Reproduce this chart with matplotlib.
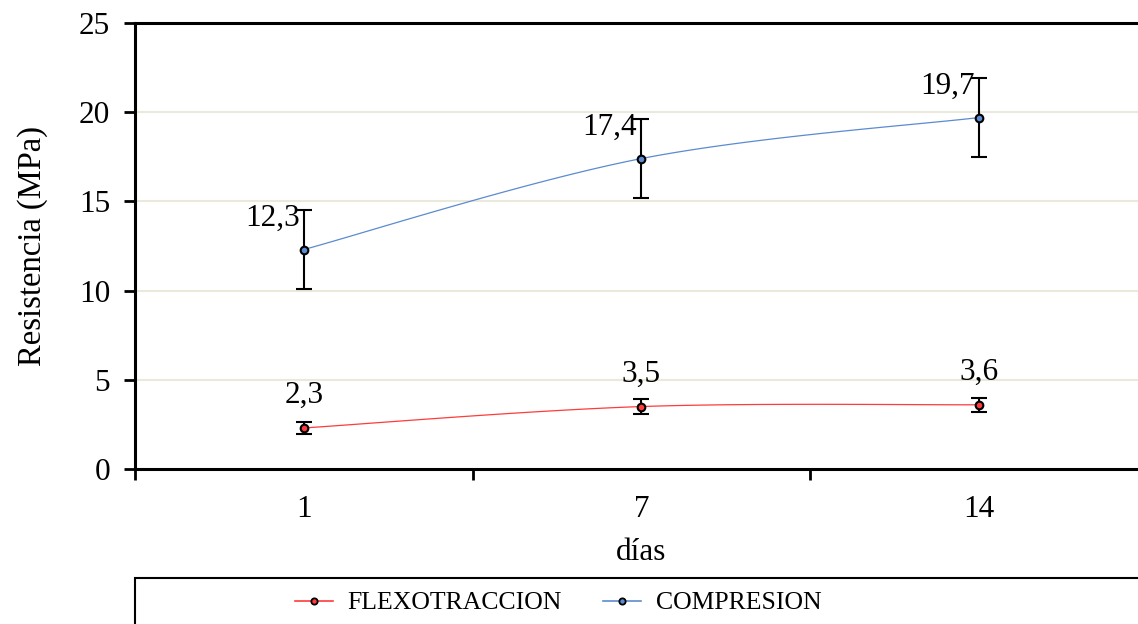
import numpy as np
import matplotlib
matplotlib.use("Agg")
import matplotlib.pyplot as plt
from matplotlib.lines import Line2D
from matplotlib.patches import Rectangle

plt.rcParams['font.family'] = ['Liberation Serif', 'DejaVu Serif']

dias = ["1", "7", "14"]
flexo = [2.3, 3.5, 3.6]
flexo_err = [0.35, 0.4, 0.4]
compr = [12.3, 17.4, 19.7]
compr_err = [2.2, 2.2, 2.2]
flexo_labels = ["2,3", "3,5", "3,6"]
compr_labels = ["12,3", "17,4", "19,7"]

RED = "#ff3b3b"
BLUE = "#5b8bd0"
FS = 22.5


def excel_smooth(x, y, n=60):
    x = np.asarray(x, float)
    y = np.asarray(y, float)
    P = np.column_stack([x, y])
    out = []
    for i in range(len(P) - 1):
        p0 = P[i - 1] if i > 0 else P[i]
        p1 = P[i]
        p2 = P[i + 1]
        p3 = P[i + 2] if i + 2 < len(P) else P[i + 1]
        c1 = p1 + (p2 - p0) / 6.0
        c2 = p2 - (p3 - p1) / 6.0
        t = np.linspace(0, 1, n)[:, None]
        seg = ((1 - t) ** 3) * p1 + 3 * ((1 - t) ** 2) * t * c1 + 3 * (1 - t) * t ** 2 * c2 + t ** 3 * p2
        out.append(seg if i == 0 else seg[1:])
    s = np.vstack(out)
    return s[:, 0], s[:, 1]


fig = plt.figure(figsize=(11.38, 6.24), dpi=100)
ax = fig.add_axes([135 / 1138, 1 - 469 / 624, 1012.5 / 1138, (469 - 23) / 624])

xs = np.arange(1, len(dias) + 1)

ax.set_ylim(0, 25)
ax.set_xlim(0.5, len(dias) + 0.5)
ax.set_yticks([0, 5, 10, 15, 20, 25])
for yv in [5, 10, 15, 20]:
    ax.axhline(yv, color="#ebe8dc", lw=1.5, zorder=0)

fx, fy = excel_smooth(xs, flexo)
cx, cy = excel_smooth(xs, compr)
ax.plot(fx, fy, color=RED, lw=0.9, zorder=2)
ax.plot(cx, cy, color=BLUE, lw=0.9, zorder=2)

ax.errorbar(xs, flexo, yerr=flexo_err, fmt='none', ecolor='black', elinewidth=1.5, capsize=6, capthick=1.5, zorder=3)
ax.errorbar(xs, compr, yerr=compr_err, fmt='none', ecolor='black', elinewidth=1.5, capsize=6, capthick=1.5, zorder=3)
ax.plot(xs, flexo, 'o', ms=5.5, mfc=RED, mec='black', mew=1.5, zorder=4)
ax.plot(xs, compr, 'o', ms=5.5, mfc=BLUE, mec='black', mew=1.5, zorder=4)

for xv, yv, lab in zip(xs, flexo, flexo_labels):
    ax.annotate(lab, (xv, yv), xytext=(0, 13), textcoords='offset points', ha='center', va='bottom', fontsize=FS)
for xv, yv, lab in zip(xs, compr, compr_labels):
    ax.annotate(lab, (xv, yv), xytext=(-3, 12), textcoords='offset points', ha='right', va='bottom', fontsize=FS)

ax.set_xticks(xs)
ax.set_xticklabels(dias, fontsize=FS)
ax.set_xticks(np.arange(0.5, len(dias) + 1, 1.0), minor=True)
ax.tick_params(axis='x', which='major', length=0, pad=19)
ax.tick_params(axis='x', which='minor', length=8, width=2, direction='out')
ax.tick_params(axis='y', which='major', length=8, width=2, direction='out', labelsize=FS, pad=10)

for s in ax.spines.values():
    s.set_linewidth(2.2)
    s.set_color('black')

ax.set_xlabel("días", fontsize=FS, labelpad=10)
ax.set_ylabel("Resistencia (MPa)", fontsize=FS + 1, labelpad=22)

# legend box
fig.patches.append(Rectangle((135 / 1138, -0.05), 1.0, 0.05 + 1 - 578 / 624, transform=fig.transFigure,
                             fill=False, edgecolor='black', lw=1.5))
handles = [
    Line2D([0], [0], color=RED, lw=1.2, marker='o', ms=4.5, mfc=RED, mec='black', mew=1.3),
    Line2D([0], [0], color=BLUE, lw=1.2, marker='o', ms=4.5, mfc=BLUE, mec='black', mew=1.3),
]
fig.legend(handles, ["FLEXOTRACCION", "COMPRESION"], loc='center', bbox_to_anchor=(558 / 1138, 1 - 603 / 624),
           ncol=2, frameon=False, fontsize=18.5, handlelength=1.5, handletextpad=0.55, columnspacing=1.6)

fig.savefig("out.png", dpi=100)
